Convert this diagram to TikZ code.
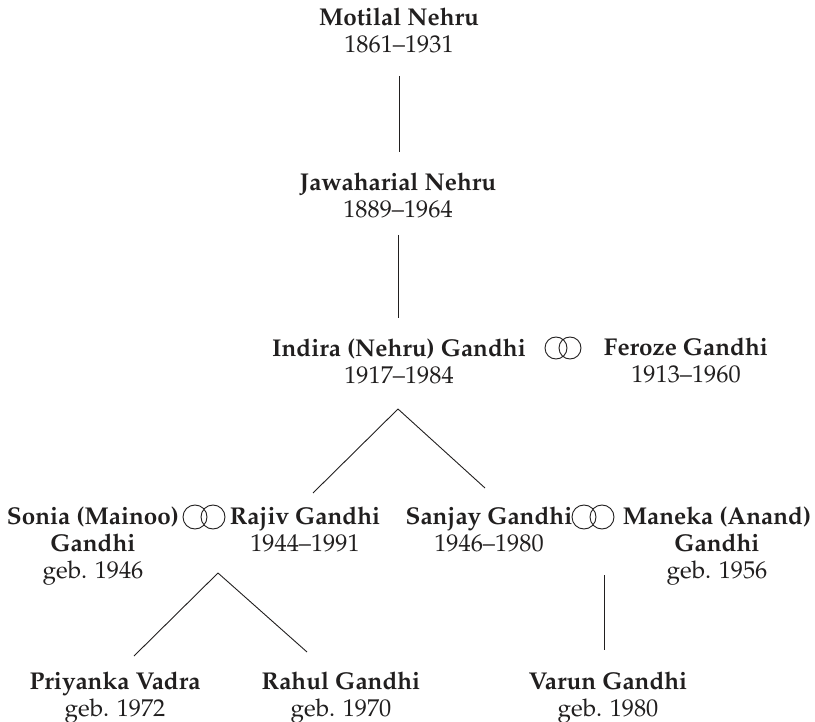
\documentclass[tikz,border=0pt]{standalone}
\usepackage[T1]{fontenc}
\renewcommand{\rmdefault}{ppl}
\usetikzlibrary{calc}
\definecolor{ink}{rgb}{0.13,0.12,0.12}
\begin{document}
\begin{tikzpicture}[x=1pt,y=-1pt,
  person/.style={anchor=base,align=center,inner sep=0pt,text=ink,
    font=\fontsize{24.3}{27}\selectfont},
  link/.style={draw=ink,line width=0.9pt},
  marriage/.style={inner sep=0pt,minimum size=22pt},
  ring/.style={draw=ink,line width=0.9pt}]
\useasboundingbox (0,0) rectangle (815,722);
% persons (anchor = baseline of last line)
\node[person] (motilal) at (399,53) {\textbf{Motilal Nehru}\\1861--1931};
\node[person] (jawaharial) at (398,218) {\textbf{Jawaharial Nehru}\\1889--1964};
\node[person] (indira) at (399,384) {\textbf{Indira (Nehru) Gandhi}\\1917--1984};
\node[person] (feroze) at (686,383) {\textbf{Feroze Gandhi}\\1913--1960};
\node[person] (sonia) at (93,578) {\textbf{Sonia (Mainoo)}\\\textbf{Gandhi}\\geb. 1946};
\node[person] (rajiv) at (305,551) {\textbf{Rajiv Gandhi}\\1944--1991};
\node[person] (sanjay) at (489,551) {\textbf{Sanjay Gandhi}\\1946--1980};
\node[person] (maneka) at (717,578) {\textbf{Maneka (Anand)}\\\textbf{Gandhi}\\geb. 1956};
\node[person] (priyanka) at (115,716) {\textbf{Priyanka Vadra}\\geb. 1972};
\node[person] (rahul) at (341,716) {\textbf{Rahul Gandhi}\\geb. 1970};
\node[person] (varun) at (608,716) {\textbf{Varun Gandhi}\\geb. 1980};
% marriage symbols
\node[marriage] (m1) at (563,348) {};
\node[marriage] (m2) at (204,517) {};
\node[marriage] (m3) at (593,517) {};
\draw[ring] (m1.center) ++(-7,0) circle[radius=11] (m1.center) ++(7,0) circle[radius=11];
\foreach \m in {m2,m3}
  \draw[ring] (\m.center) ++(-9,0) circle[radius=12] (\m.center) ++(9,0) circle[radius=12];
% connection points
\coordinate (c1) at (398,409);
\coordinate (c2) at (218,573);
\coordinate (c3) at (604,575);
% connectors
\draw[link] (399,76) -- (399,152);
\draw[link] (398,235) -- (398,318);
\draw[link] (c1) -- (313,493);
\draw[link] (c1) -- (485,488);
\draw[link] (c2) -- (134,656);
\draw[link] (c2) -- (307,652);
\draw[link] (c3) -- (604,650);
\end{tikzpicture}
\end{document}
